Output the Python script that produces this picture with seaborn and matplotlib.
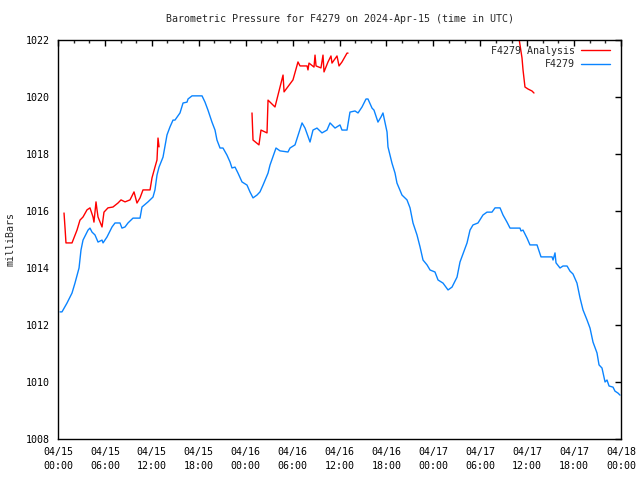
import numpy as np
import pandas as pd
import seaborn as sns
import matplotlib.pyplot as plt
import matplotlib.dates as mdates
from matplotlib.lines import Line2D

# hours after 2024-04-15 00:00 UTC, pressure in millibars
station_hours = [
    0.26, 0.51, 1.15, 1.79, 2.17, 2.69, 2.94, 3.20, 3.84, 4.09, 4.35, 4.73, 5.12, 5.63,
    5.76, 6.27, 6.91, 7.29, 7.93, 8.18, 8.57, 8.95, 9.59, 10.49, 10.74, 11.51, 11.77,
    12.15, 12.40, 12.66, 12.92, 13.43, 13.94, 14.32, 14.71, 14.96, 15.60, 15.99, 16.50,
    16.63, 17.14, 18.42, 18.80, 19.18, 19.69, 20.08, 20.33, 20.72, 21.10, 21.61, 22.00,
    22.25, 22.64, 23.02, 23.53, 24.17, 24.55, 24.94, 25.45, 25.83, 26.22, 26.86, 27.11,
    27.88, 28.39, 29.41, 29.67, 30.31, 31.21, 31.59, 32.23, 32.61, 33.12, 33.76, 34.40,
    34.79, 35.43, 36.06, 36.32, 36.96, 37.34, 37.98, 38.37, 38.88, 39.39, 39.64, 40.16,
    40.41, 40.92, 41.31, 41.56, 42.08, 42.20, 42.71, 43.10, 43.35, 43.99, 44.63, 45.02,
    45.40, 45.91, 46.30, 46.68, 47.19, 47.58, 48.21, 48.60, 49.24, 49.88, 50.39, 51.03,
    51.41, 52.31, 52.69, 53.07, 53.71, 54.35, 54.86, 55.50, 55.89, 56.53, 56.91, 57.42,
    57.81, 59.08, 59.21, 59.47, 59.98, 60.36, 61.26, 61.77, 63.18, 63.31, 63.56, 63.69,
    64.20, 64.58, 65.10, 65.48, 65.86, 66.37, 66.76, 67.14, 67.65, 68.04, 68.42, 68.93,
    69.19, 69.57, 69.96, 70.21, 70.47, 70.98, 71.23, 71.62, 71.87,
]
station_mb = [
    1012.46, 1012.46, 1012.77, 1013.12, 1013.47, 1014.00, 1014.63, 1014.98, 1015.33,
    1015.40, 1015.26, 1015.16, 1014.91, 1014.98, 1014.88, 1015.09, 1015.44, 1015.58,
    1015.58, 1015.40, 1015.44, 1015.58, 1015.75, 1015.75, 1016.14, 1016.32, 1016.39,
    1016.49, 1016.74, 1017.26, 1017.54, 1017.89, 1018.67, 1018.95, 1019.19, 1019.19,
    1019.44, 1019.79, 1019.82, 1019.93, 1020.04, 1020.04, 1019.82, 1019.54, 1019.12,
    1018.84, 1018.49, 1018.21, 1018.21, 1017.96, 1017.72, 1017.51, 1017.54, 1017.33,
    1017.02, 1016.91, 1016.67, 1016.46, 1016.56, 1016.67, 1016.91, 1017.33, 1017.61,
    1018.21, 1018.11, 1018.07, 1018.21, 1018.32, 1019.09, 1018.91, 1018.42, 1018.84,
    1018.91, 1018.74, 1018.84, 1019.09, 1018.91, 1019.02, 1018.84, 1018.84, 1019.47,
    1019.51, 1019.44, 1019.65, 1019.93, 1019.93, 1019.61, 1019.54, 1019.12, 1019.30,
    1019.44, 1018.77, 1018.25, 1017.68, 1017.33, 1016.98, 1016.56, 1016.39, 1016.11,
    1015.58, 1015.16, 1014.74, 1014.28, 1014.11, 1013.93, 1013.86, 1013.58, 1013.47,
    1013.23, 1013.33, 1013.68, 1014.21, 1014.88, 1015.33, 1015.51, 1015.58, 1015.86,
    1015.96, 1015.96, 1016.11, 1016.11, 1015.86, 1015.61, 1015.40, 1015.40, 1015.30,
    1015.33, 1015.05, 1014.81, 1014.81, 1014.39, 1014.39, 1014.28, 1014.53, 1014.18,
    1014.00, 1014.07, 1014.07, 1013.89, 1013.79, 1013.47, 1012.95, 1012.53, 1012.18,
    1011.89, 1011.40, 1011.02, 1010.60, 1010.49, 1010.00, 1010.07, 1009.86, 1009.82,
    1009.68, 1009.61, 1009.54,
]

# analysis series comes in three separate runs
analysis_hours = [
    [0.77, 0.90, 1.02, 1.79, 2.43, 2.81, 3.20, 3.71, 4.09, 4.48, 4.60, 4.86, 4.99, 5.12,
     5.63, 5.88, 6.39, 7.03, 7.67, 8.06, 8.57, 9.21, 9.72, 10.10, 10.49, 10.87, 11.77,
     12.02, 12.40, 12.66, 12.79, 12.92],
    [24.81, 24.94, 25.70, 25.96, 26.73, 26.86, 27.75, 28.78, 28.91, 30.05, 30.69, 30.95,
     31.85, 31.97, 32.10, 32.74, 32.87, 33.00, 33.63, 33.89, 34.02, 34.53, 34.91, 35.04,
     35.68, 35.94, 36.32, 36.96, 37.09],
    [58.83, 59.34, 59.47, 59.72, 60.11, 60.62, 60.87],
]
analysis_mb = [
    [1015.93, 1015.40, 1014.88, 1014.88, 1015.33, 1015.68, 1015.79, 1016.04, 1016.11,
     1015.79, 1015.61, 1016.32, 1016.04, 1015.79, 1015.44, 1015.96, 1016.11, 1016.14,
     1016.28, 1016.39, 1016.32, 1016.39, 1016.67, 1016.28, 1016.46, 1016.74, 1016.74,
     1017.16, 1017.54, 1017.79, 1018.56, 1018.25],
    [1019.44, 1018.49, 1018.32, 1018.84, 1018.74, 1019.89, 1019.65, 1020.77, 1020.18,
     1020.60, 1021.23, 1021.09, 1021.09, 1020.95, 1021.19, 1021.05, 1021.47, 1021.09,
     1021.02, 1021.47, 1020.88, 1021.23, 1021.44, 1021.19, 1021.44, 1021.09, 1021.23,
     1021.54, 1021.54],
    [1022.28, 1021.37, 1020.95, 1020.35, 1020.28, 1020.21, 1020.14],
]

start = pd.Timestamp("2024-04-15 00:00")

station = pd.DataFrame({
    "time": start + pd.to_timedelta(station_hours, unit="h"),
    "mb": station_mb,
})
analysis = pd.concat([
    pd.DataFrame({
        "time": start + pd.to_timedelta(h, unit="h"),
        "mb": p,
        "run": i,
    })
    for i, (h, p) in enumerate(zip(analysis_hours, analysis_mb))
], ignore_index=True)

sns.set_style("white")
plt.rcParams["font.family"] = ["DejaVu Sans Mono"]

red = "#ff0000"
blue = "#0a84ff"
fs = 7.2

fig = plt.figure(figsize=(6.4, 4.8), dpi=100)
ax = fig.add_axes([58 / 640, 41 / 480, 563 / 640, 399 / 480])

sns.lineplot(data=station, x="time", y="mb", color=blue, lw=1, ax=ax)
sns.lineplot(data=analysis, x="time", y="mb", units="run", estimator=None,
             color=red, lw=1, ax=ax)

ax.set_xlim(start, start + pd.Timedelta(hours=72))
ax.set_ylim(1008, 1022)
ax.set_yticks(np.arange(1008, 1023, 2))
ax.xaxis.set_major_locator(mdates.HourLocator(byhour=range(0, 24, 6)))
ax.xaxis.set_minor_locator(mdates.HourLocator(byhour=range(0, 24, 2)))
ax.xaxis.set_major_formatter(mdates.DateFormatter("%m/%d\n%H:%M"))

ax.tick_params(which="major", direction="in", length=4.5, width=1, top=True, right=True,
               labelsize=fs, colors="black", pad=6)
ax.tick_params(which="minor", direction="in", length=2.5, width=1, top=True, right=True)
for lbl in ax.get_xticklabels():
    lbl.set_linespacing(1.5)
for s in ax.spines.values():
    s.set_color("black")
    s.set_linewidth(1)

ax.set_xlabel("")
ax.set_ylabel("milliBars", fontsize=fs)
ax.yaxis.set_label_coords(-0.075, 0.5)
ax.set_title("Barometric Pressure for F4279 on 2024-Apr-15 (time in UTC)",
             fontsize=fs, pad=13)

handles = [Line2D([], [], color=red, lw=1), Line2D([], [], color=blue, lw=1)]
ax.legend(handles, ["F4279 Analysis", "F4279"], loc="upper right",
          bbox_to_anchor=(1 - 5 / 563, 1.0), frameon=False,
          markerfirst=False, fontsize=fs, handlelength=2.9, handletextpad=0.6,
          labelspacing=0.35, borderaxespad=0.2)

fig.savefig("out.png", dpi=100)
